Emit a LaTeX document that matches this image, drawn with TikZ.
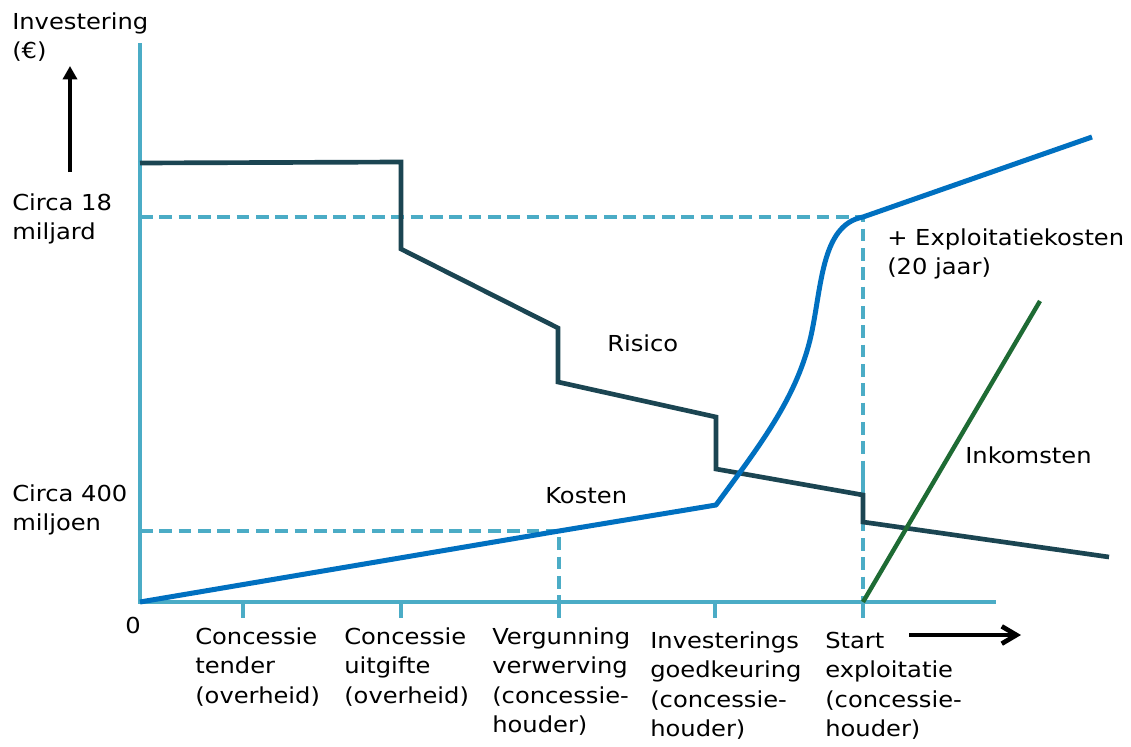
\documentclass[tikz,border=0pt]{standalone}
\usepackage{fontspec}
\setmainfont{DejaVu Sans}[FakeStretch=1.1]
\usetikzlibrary{arrows.meta}
\definecolor{axiscol}{HTML}{4BACC6}
\definecolor{riskcol}{HTML}{1B4552}
\definecolor{costcol}{HTML}{0070C0}
\definecolor{incomecol}{HTML}{1E6B34}
\begin{document}
\begin{tikzpicture}[x=0.75pt,y=-0.75pt,
  lbl/.style={anchor=north west,inner sep=0pt,align=left,font=\fontsize{16.5pt}{22.1pt}\selectfont},
  axisline/.style={draw=axiscol,line width=3.5pt},
  guide/.style={draw=axiscol,line width=3.5pt,dash pattern=on 9.5pt off 5pt},
  riskline/.style={draw=riskcol,line width=3.5pt,line join=miter},
  costline/.style={draw=costcol,line width=3.75pt,line join=round},
  incomeline/.style={draw=incomecol,line width=3.3pt},
  bigarrow/.style={draw=black,line width=3.5pt}]
\useasboundingbox[fill=white] (0,0) rectangle (1131,746);

% axes
\coordinate (O) at (140,602);
\coordinate (ytop) at (140,43);
\coordinate (xend) at (996,602);
\draw[axisline] (ytop) -- (O) -- (xend);
\foreach \t/\xx in {t1/243,t2/401,t3/559,t4/715,t5/863}{
  \coordinate (\t) at (\xx,602);
  \draw[axisline] (\t) -- ++(0,16);
}

% guide lines
\coordinate (g18) at (140,217);
\coordinate (p18) at (863,217);
\coordinate (g400) at (140,531);
\coordinate (p400) at (559,531);
\draw[guide] (g18) -- (p18) -- (t5);
\draw[guide] (g400) -- (p400) -- (t3);
\draw[axisline] (863,472) -- (863,497);

% risk
\draw[riskline] (140,163) -- (401,162) -- (401,249) -- (558,328) -- (558,382)
  -- (716,417) -- (716,469) -- (863,495) -- (863,522) -- (1109,557);

% costs
\coordinate (kink) at (716,505);
\draw[costline] (O) -- (p400) -- (kink)
  .. controls (760,445) and (795,400) .. (810,340)
  .. controls (822,290) and (820,225) .. (p18) -- (1092,137);

% income
\draw[incomeline] (t5) -- (1040,301);

% arrows
\coordinate (ua0) at (70,172);
\coordinate (ua1) at (70,66);
\draw[bigarrow,-{Triangle[length=10pt,width=10.5pt]}] (ua0) -- (ua1);
\coordinate (ra0) at (909,635);
\coordinate (ra1) at (1021,635);
\draw[bigarrow,-{Straight Barb[length=11pt,width=13pt]}] (ra0) -- (ra1);

% labels
\node[lbl] (yl) at (12,8.4) {\strut Investering\\(€)};
\node[lbl] (l18) at (12,189.4) {\strut Circa 18\\miljard};
\node[lbl] (l400) at (12,480.4) {\strut Circa 400\\miljoen};
\node[lbl] (zero) at (125,612.4) {\strut 0};
\node[lbl] (c1) at (195,623.4) {\strut Concessie\\tender\\(overheid)};
\node[lbl] (c2) at (344,623.4) {\strut Concessie\\uitgifte\\(overheid)};
\node[lbl] (c3) at (492,623.4) {\strut Vergunning\\verwerving\\(concessie-\\houder)};
\node[lbl] (c4) at (650,627.4) {\strut Investerings\\goedkeuring\\(concessie-\\houder)};
\node[lbl] (c5) at (825,627.4) {\strut Start\\exploitatie\\(concessie-\\houder)};
\node[lbl] (risico) at (607,330.4) {\strut Risico};
\node[lbl] (kosten) at (545,482.4) {\strut Kosten};
\node[lbl] (expl) at (887,224.4) {\strut + Exploitatiekosten\\(20 jaar)};
\node[lbl] (ink) at (965,442.4) {\strut Inkomsten};
\end{tikzpicture}
\end{document}
